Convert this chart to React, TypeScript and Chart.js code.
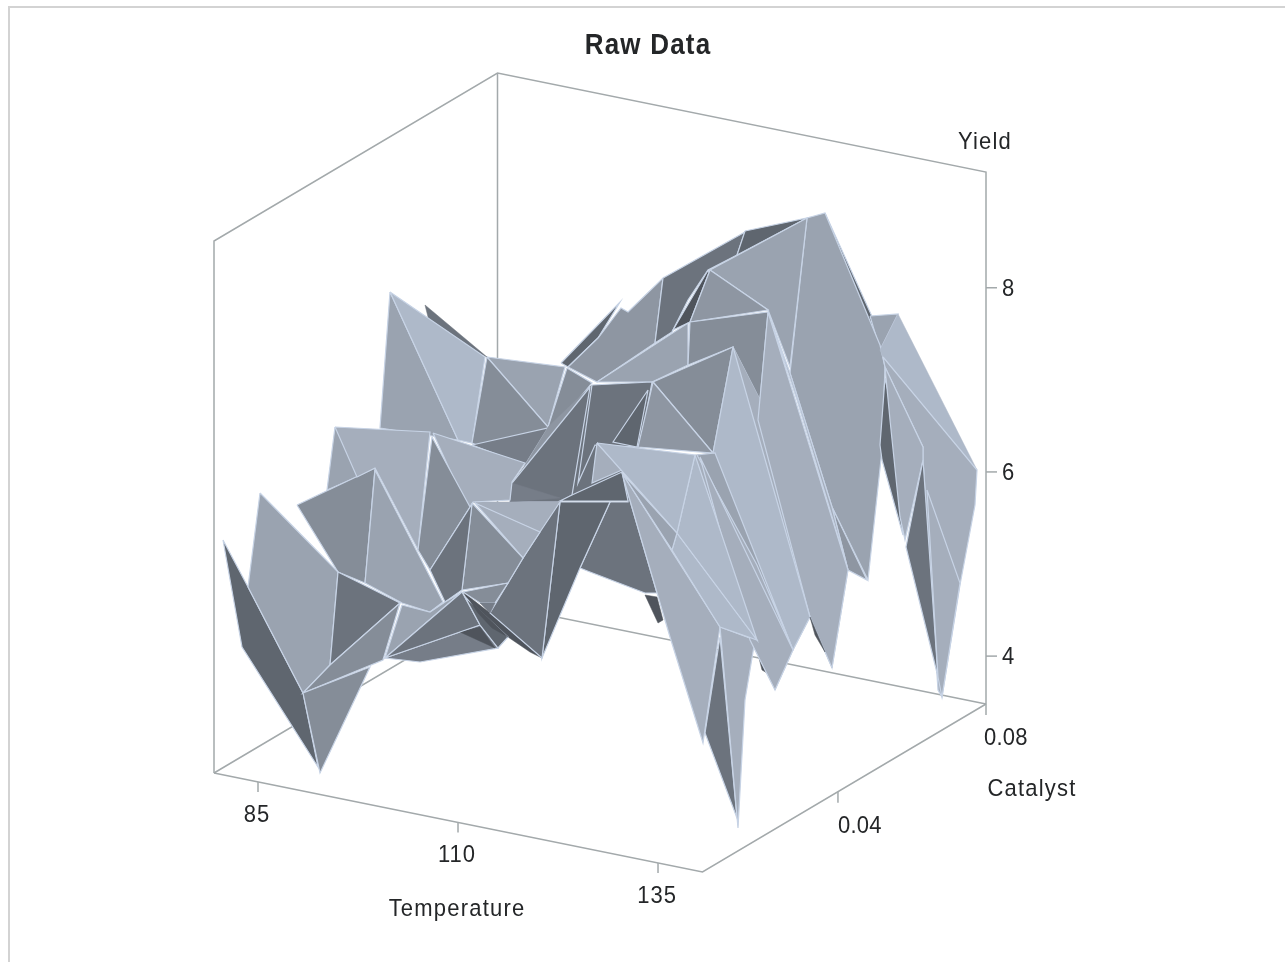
import React, { useEffect, useRef } from "react";
import { Chart, registerables } from "chart.js";

Chart.register(...registerables);

const titleText = "Raw Data";
const temperatureTicks = [85, 110, 135];
const catalystTicks = [0.04, 0.08];
const yieldTicks = [4, 6, 8];
const temperatureRange = [79.5, 140.56];
const catalystRange = [0.0034, 0.08];
const yieldRange = [3.48, 9.257];

// Tones of the lit surface, from lightest to darkest
const shades = ["#aeb9c9", "#a5aebc", "#9aa3b0", "#8e96a2", "#858d98", "#767d88", "#6c737d", "#5f666f", "#4f545c"];

// Facets of the surface as read in the projected view plane, back to front:
// [tone, edge drawn (1/0), h1, v1, h2, v2, ...]
const facets: number[][] = [
  [7, 1, 561, 363, 620, 302, 598, 338, 568, 367],
  [3, 1, 568, 367, 598, 338, 621, 308, 628, 312, 663, 278, 655, 343, 597, 382],
  [6, 1, 663, 278, 745, 232, 737, 255, 708, 270, 688, 300, 672, 332, 655, 343],
  [7, 1, 745, 231, 807, 218, 737, 255],
  [8, 1, 707, 272, 673, 330, 690, 322, 710, 270],
  [7, 1, 825, 213, 885, 345, 880, 350, 822, 225],
  [2, 1, 870, 316, 898, 314, 880, 350],
  [2, 1, 807, 218, 825, 213, 880, 345, 885, 367, 882, 450, 868, 580, 832, 507, 790, 373],
  [3, 1, 832, 507, 867, 580, 848, 570],
  [2, 1, 710, 270, 807, 218, 790, 367, 768, 310],
  [1, 1, 768, 312, 790, 373, 832, 507, 848, 570, 797, 400],
  [7, 1, 885, 378, 890, 400, 903, 535, 882, 460, 880, 445],
  [0, 0, 898, 314, 977, 470, 883, 357, 880, 350],
  [1, 1, 883, 357, 977, 470, 975, 505, 960, 585, 942, 697, 938, 690, 923, 460, 923, 447, 885, 367],
  [1, 1, 885, 367, 923, 447, 923, 460, 905, 540, 900, 517, 890, 420],
  [6, 1, 923, 460, 938, 677, 906, 547],
  [1, 1, 927, 490, 960, 583, 942, 697, 938, 677],
  [6, 0, 425, 305, 487, 357, 470, 350, 430, 325],
  [2, 1, 390, 292, 458, 440, 380, 428],
  [0, 1, 390, 292, 485, 357, 472, 443, 458, 440],
  [2, 1, 487, 357, 565, 367, 548, 427],
  [4, 1, 487, 357, 548, 427, 525, 465, 472, 443],
  [5, 1, 472, 445, 548, 428, 525, 465],
  [4, 1, 567, 368, 592, 383, 555, 428, 548, 427],
  [3, 0, 548, 427, 592, 385, 512, 483, 525, 465],
  [2, 1, 597, 382, 688, 323, 688, 365, 652, 382],
  [3, 1, 710, 270, 768, 310, 690, 322],
  [4, 1, 690, 322, 768, 312, 760, 400, 733, 347, 688, 365],
  [6, 0, 590, 387, 652, 382, 640, 447, 622, 472, 572, 495],
  [6, 1, 592, 385, 652, 382, 640, 447, 595, 445, 578, 483],
  [7, 1, 648, 390, 613, 442, 637, 447],
  [6, 1, 590, 387, 512, 483, 510, 502, 560, 502, 572, 495],
  [5, 0, 512, 483, 560, 498, 510, 502],
  [4, 1, 653, 382, 733, 347, 713, 453],
  [3, 1, 653, 382, 713, 453, 638, 447],
  [1, 0, 695, 455, 713, 453, 733, 347, 848, 570, 832, 668, 810, 617, 793, 650, 775, 690, 757, 640],
  [1, 1, 768, 312, 848, 570, 832, 668, 810, 617, 758, 420],
  [0, 1, 733, 347, 713, 453, 793, 650, 810, 617],
  [8, 0, 810, 617, 825, 652, 815, 635],
  [8, 0, 645, 595, 658, 623, 663, 620, 657, 597],
  [6, 1, 610, 502, 628, 502, 622, 473, 657, 593, 645, 593, 590, 572, 580, 568],
  [7, 1, 572, 495, 622, 472, 628, 501, 560, 501],
  [1, 1, 597, 443, 592, 483, 622, 470],
  [1, 0, 473, 502, 560, 502, 540, 532, 475, 503],
  [8, 0, 463, 592, 490, 613, 542, 658, 530, 652, 508, 637, 480, 620],
  [7, 1, 560, 502, 610, 502, 580, 568, 542, 658],
  [6, 1, 560, 502, 542, 658, 490, 613, 523, 558, 540, 532],
  [2, 1, 335, 427, 373, 470, 327, 490],
  [4, 1, 297, 505, 375, 468, 365, 583, 338, 572],
  [1, 1, 335, 427, 430, 432, 418, 550, 375, 468, 357, 477],
  [1, 1, 433, 433, 525, 463, 512, 482, 510, 500, 473, 502, 468, 510],
  [2, 1, 375, 470, 443, 602, 430, 612, 402, 603, 365, 583],
  [4, 1, 432, 437, 470, 507, 430, 570, 418, 550],
  [1, 1, 475, 503, 540, 532, 523, 558],
  [4, 1, 472, 503, 523, 558, 508, 583, 462, 590],
  [6, 1, 472, 504, 430, 570, 445, 602, 462, 590],
  [4, 1, 463, 592, 508, 583, 495, 603, 480, 603],
  [5, 0, 480, 603, 495, 603, 490, 613],
  [7, 1, 223, 540, 248, 587, 303, 693, 318, 767, 242, 647],
  [2, 1, 260, 493, 338, 572, 330, 665, 303, 693, 248, 587],
  [6, 1, 338, 572, 400, 603, 330, 665],
  [4, 1, 330, 665, 400, 603, 383, 660, 303, 693],
  [4, 1, 303, 693, 370, 667, 320, 773],
  [2, 1, 402, 605, 430, 612, 445, 602, 462, 592, 385, 658],
  [5, 1, 480, 625, 498, 648, 420, 662, 385, 658],
  [8, 0, 460, 632, 480, 627, 495, 648],
  [6, 1, 385, 658, 462, 592, 480, 625],
  [7, 1, 465, 597, 508, 637, 498, 648, 480, 625],
  [8, 0, 468, 598, 508, 637, 492, 628, 478, 613],
  [6, 1, 720, 637, 705, 733, 737, 818],
  [1, 1, 622, 473, 640, 535, 670, 637, 703, 743, 720, 627],
  [1, 1, 720, 627, 755, 640, 745, 700, 738, 828],
  [8, 0, 757, 650, 767, 673, 762, 670],
  [2, 1, 697, 455, 715, 453, 793, 650, 757, 565],
  [1, 1, 700, 457, 793, 650, 775, 690, 750, 640],
  [0, 1, 677, 533, 757, 640, 720, 627, 672, 550],
  [0, 1, 695, 455, 757, 640, 677, 533],
  [2, 1, 622, 473, 677, 533, 672, 550],
  [0, 1, 597, 443, 695, 455, 677, 533],
];

const origin = [214, 773];
const alongTemperature = [488.5, 99];
const alongCatalyst = [283.5, -168];
const upYield = -532;
const edgeColor = "#c7d3e5";
const axisColor = "#a3a9ab";
const textColor = "#242628";
const fontFamily = '"Liberation Sans", Arial, sans-serif';

const unit = (v: number, r: number[]) => (v - r[0]) / (r[1] - r[0]);

function project(t: number, c: number, y: number) {
  const u = unit(t, temperatureRange);
  const v = unit(c, catalystRange);
  const w = unit(y, yieldRange);
  return {
    x: origin[0] + alongTemperature[0] * u + alongCatalyst[0] * v,
    y: origin[1] + alongTemperature[1] * u + alongCatalyst[1] * v + upYield * w,
  };
}

function lineDataset(points: { x: number; y: number }[], color: string) {
  return {
    data: points,
    showLine: true,
    fill: false,
    borderColor: color,
    borderWidth: 1.5,
    pointRadius: 0,
    tension: 0,
  };
}

function facetDataset(f: number[]) {
  const pts: { x: number; y: number }[] = [];
  for (let i = 2; i < f.length; i += 2) pts.push({ x: f[i], y: f[i + 1] });
  pts.push(pts[0]);
  return {
    data: pts,
    showLine: true,
    fill: "shape",
    backgroundColor: shades[f[0]],
    borderColor: f[1] ? edgeColor : shades[f[0]],
    borderWidth: f[1] ? 1.2 : 0.5,
    pointRadius: 0,
    tension: 0,
  };
}

function frameDatasets() {
  const [t0, t1] = temperatureRange;
  const [c0, c1] = catalystRange;
  const [y0, y1] = yieldRange;
  const segs = [
    [project(t0, c0, y0), project(t1, c0, y0), project(t1, c1, y0)],
    [project(t0, c0, y0), project(t0, c1, y0), project(t1, c1, y0)],
    [project(t0, c0, y0), project(t0, c0, y1), project(t0, c1, y1), project(t1, c1, y1), project(t1, c1, y0)],
    [project(t0, c1, y0), project(t0, c1, y1)],
  ];
  temperatureTicks.forEach((t) => {
    const p = project(t, c0, y0);
    segs.push([p, { x: p.x, y: p.y + 10 }]);
  });
  catalystTicks.forEach((c) => {
    const p = project(t1, c, y0);
    segs.push([p, { x: p.x, y: p.y + 11 }]);
  });
  yieldTicks.forEach((y) => {
    const p = project(t1, c1, y);
    segs.push([p, { x: p.x + 11, y: p.y }]);
  });
  return segs.map((s) => lineDataset(s, axisColor));
}

const textPlugin = {
  id: "plotText",
  afterDraw(chart: any) {
    const ctx = chart.ctx;
    const sx = chart.scales.x;
    const sy = chart.scales.y;
    const put = (s: string, x: number, y: number, align: CanvasTextAlign, font: string, sp: string) => {
      ctx.save();
      ctx.font = font;
      ctx.letterSpacing = sp;
      ctx.textAlign = align;
      ctx.textBaseline = "middle";
      ctx.fillStyle = textColor;
      ctx.translate(sx.getPixelForValue(x), sy.getPixelForValue(y));
      ctx.scale(1, 1.12);
      ctx.fillText(s, 0, 0);
      ctx.restore();
    };
    const f = `22px ${fontFamily}`;
    put(titleText, 648, 46, "center", `bold 26px ${fontFamily}`, "1.2px");
    const c0 = catalystRange[0];
    const t1 = temperatureRange[1];
    temperatureTicks.forEach((t) => {
      const p = project(t, c0, yieldRange[0]);
      put(String(t), p.x - 1, p.y + 33, "center", f, "1px");
    });
    catalystTicks.forEach((c) => {
      const p = project(t1, c, yieldRange[0]);
      put(c.toFixed(2), p.x + (c === 0.08 ? -2 : 0), p.y + 34, "left", f, "0.2px");
    });
    yieldTicks.forEach((y) => {
      const p = project(t1, catalystRange[1], y);
      put(String(y), p.x + 16, p.y + 1, "left", f, "1px");
    });
    put("Temperature", 457, 909, "center", f, "1.2px");
    put("Catalyst", 1032, 789, "center", f, "1.2px");
    put("Yield", 985, 142, "center", f, "1.2px");
  },
};

export default function App() {
  const ref = useRef<HTMLCanvasElement>(null);
  useEffect(() => {
    const ordered = [...frameDatasets(), ...facets.map(facetDataset)].reverse();
    const chart = new Chart(ref.current as HTMLCanvasElement, {
      type: "scatter",
      data: { datasets: ordered as any },
      options: {
        animation: false,
        responsive: false,
        devicePixelRatio: 1,
        layout: { padding: 0 },
        plugins: { legend: { display: false }, tooltip: { enabled: false }, title: { display: false } },
        scales: {
          x: { type: "linear", min: 0, max: 1285, display: false },
          y: { type: "linear", min: 0, max: 962, reverse: true, display: false },
        },
      },
      plugins: [textPlugin],
    } as any);
    return () => chart.destroy();
  }, []);
  return (
    <>
      <div
        style={{
          position: "fixed",
          left: 8,
          top: 6,
          right: 0,
          bottom: 0,
          borderLeft: "2px solid #d3d3d3",
          borderTop: "2px solid #d3d3d3",
        }}
      />
      <canvas
        ref={ref}
        width={1285}
        height={962}
        style={{ position: "fixed", left: 0, top: 0, display: "block", filter: "blur(0.4px)" }}
      />
    </>
  );
}
